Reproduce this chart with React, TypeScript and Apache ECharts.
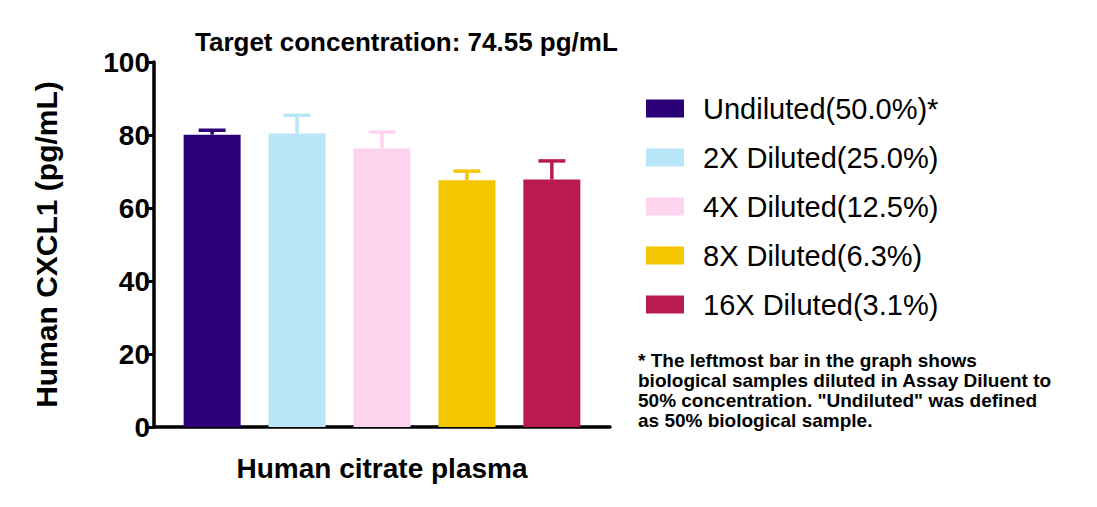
import { useEffect, useRef } from 'react';
import * as echarts from 'echarts';

const categories = ['Human citrate plasma'];
const seriesNames = [
  'Undiluted(50.0%)*',
  '2X Diluted(25.0%)',
  '4X Diluted(12.5%)',
  '8X Diluted(6.3%)',
  '16X Diluted(3.1%)'
];
const means = [80.1, 80.4, 76.3, 67.6, 67.8];
const upper = [81.3, 85.4, 80.8, 70.1, 72.9];
const colors = ['#2c0079', '#b9e5f9', '#fdd3ee', '#f3c600', '#b91a4f'];
const yTicks = { min: 0, max: 100, interval: 20 };
const footnote = [
  '* The leftmost bar in the graph shows',
  'biological samples diluted in Assay Diluent to',
  '50% concentration. "Undiluted" was defined',
  'as 50% biological sample.'
];

const FONT = '"Liberation Sans", Arial, Helvetica, sans-serif';
const BAR_W = 57;
const BAR_GAP = 0.49;

export default function App() {
  const chartRef = useRef<HTMLDivElement>(null);

  useEffect(() => {
    if (!chartRef.current) return;
    const chart = echarts.init(chartRef.current, null, { renderer: 'svg' });

    const bars: echarts.SeriesOption[] = seriesNames.map((name, i) => ({
      name,
      type: 'bar',
      data: [means[i]],
      barWidth: BAR_W,
      barGap: `${BAR_GAP * 100}%`,
      itemStyle: { color: colors[i] },
      z: 3
    }));

    // error bars drawn on top of each bar, offset the same way the bars are laid out
    const errors: echarts.SeriesOption = {
      type: 'custom',
      name: 'error',
      data: means.map((m, i) => [i, m, upper[i]]),
      z: 2,
      renderItem: (_params: any, api: any) => {
        const idx = api.value(0);
        const step = BAR_W * (1 + BAR_GAP);
        const lo = api.coord([0, api.value(1)]);
        const hi = api.coord([0, api.value(2)]);
        const x = lo[0] + (idx - (seriesNames.length - 1) / 2) * step;
        const style = { stroke: colors[idx], lineWidth: 3.5 };
        return {
          type: 'group',
          children: [
            { type: 'line', shape: { x1: x, y1: lo[1], x2: x, y2: hi[1] }, style },
            { type: 'line', shape: { x1: x - 13.5, y1: hi[1], x2: x + 13.5, y2: hi[1] }, style }
          ]
        };
      }
    };

    chart.setOption({
      animation: false,
      textStyle: { fontFamily: FONT },
      grid: { left: 154, right: 487, top: 62, bottom: 80, containLabel: false },
      legend: {
        data: seriesNames,
        orient: 'vertical',
        left: 641,
        top: 89,
        itemWidth: 38,
        itemHeight: 18,
        itemGap: 20,
        icon: 'rect',
        selectedMode: false,
        textStyle: {
          fontSize: 29,
          color: '#000',
          fontFamily: FONT,
          padding: [0, 0, 0, 14]
        }
      },
      xAxis: {
        type: 'category',
        data: categories,
        name: categories[0],
        nameLocation: 'middle',
        nameGap: 27,
        nameTextStyle: {
          fontSize: 28,
          fontWeight: 'bold',
          color: '#000',
          fontFamily: FONT,
          verticalAlign: 'top'
        },
        axisLine: { lineStyle: { color: '#000', width: 3.5 } },
        axisTick: { alignWithLabel: true, length: 7, lineStyle: { color: '#000', width: 3 } },
        axisLabel: { show: false }
      },
      yAxis: {
        type: 'value',
        min: yTicks.min,
        max: yTicks.max,
        interval: yTicks.interval,
        name: 'Human CXCL1 (pg/mL)',
        nameLocation: 'middle',
        nameGap: 93,
        nameTextStyle: {
          fontSize: 30,
          fontWeight: 'bold',
          color: '#000',
          fontFamily: FONT
        },
        axisLine: { show: true, lineStyle: { color: '#000', width: 3.5 } },
        axisTick: { show: true, length: 9, lineStyle: { color: '#000', width: 3 } },
        axisLabel: {
          fontSize: 28,
          fontWeight: 'bold',
          color: '#000',
          margin: 4,
          fontFamily: FONT
        },
        splitLine: { show: false }
      },
      graphic: [
        {
          type: 'text',
          left: 195,
          top: 29,
          style: {
            text: 'Target concentration: 74.55 pg/mL',
            fontSize: 26,
            fontWeight: 'bold',
            fill: '#000',
            fontFamily: FONT
          }
        },
        ...footnote.map((line, i) => ({
          type: 'text',
          left: 638,
          top: 351 + i * 20,
          style: {
            text: line,
            fontSize: 19,
            fontWeight: 'bold',
            fill: '#000',
            fontFamily: FONT
          }
        }))
      ],
      series: [...bars, errors]
    });

    return () => chart.dispose();
  }, []);

  return (
    <div
      ref={chartRef}
      style={{ position: 'fixed', left: 0, top: 0, width: 1097, height: 507, background: '#fff' }}
    />
  );
}
